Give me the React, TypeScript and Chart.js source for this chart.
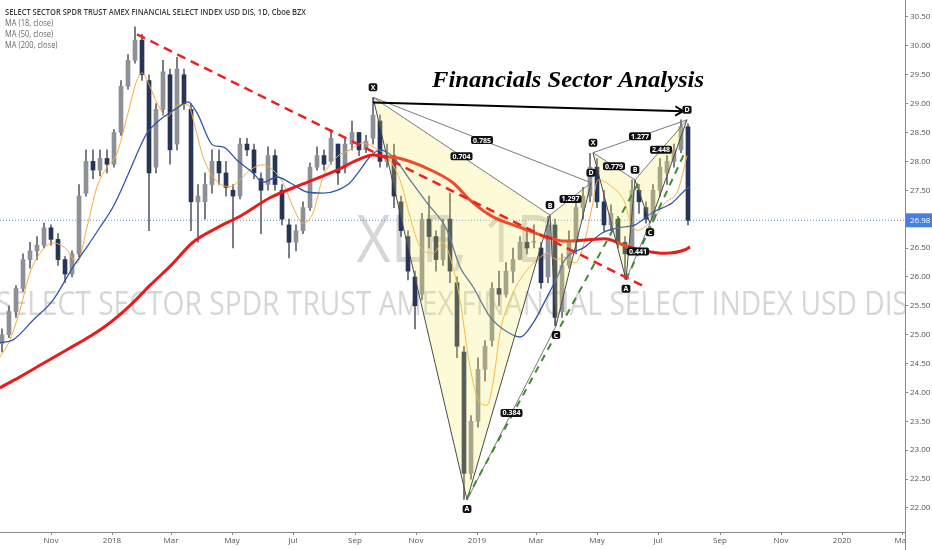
import { useEffect, useRef } from 'react';
import Chart from 'chart.js/auto';

// x values are days counted from 1 Nov 2017, one candle per week
const weekDays = [
  -49, -42, -35, -28, -21, -14, -7, 0, 7, 14, 21, 28, 35, 42, 49, 56, 63, 70, 77, 84,
  91, 98, 105, 112, 119, 126, 133, 140, 147, 154, 161, 168, 175, 182, 189, 196, 203, 210, 217, 224,
  231, 238, 245, 252, 259, 266, 273, 280, 287, 294, 301, 308, 315, 322, 329, 336, 343, 350, 357, 364,
  371, 378, 385, 392, 399, 406, 413, 420, 427, 434, 441, 448, 455, 462, 469, 476, 483, 490, 497, 504,
  511, 518, 525, 532, 539, 546, 553, 560, 567, 574, 581, 588, 595, 602, 609, 616, 623, 630, 637,
];
const opens = [
  24.85, 25.0, 25.4, 25.8, 26.3, 26.45, 26.55, 26.85, 26.65, 26.3,
  26.05, 26.4, 27.45, 28.0, 27.85, 28.05, 27.95, 28.5, 29.3, 29.75,
  30.1, 29.4, 27.9, 28.9, 29.5, 28.3, 29.5, 28.9, 27.3, 27.3,
  27.6, 28.0, 27.8, 27.5, 27.4, 28.3, 28.2, 27.7, 27.6, 28.1,
  27.5, 26.9, 26.6, 26.8, 27.2, 27.9, 28.1, 28.0, 28.3, 27.9,
  28.3, 28.5, 28.2, 28.4, 28.7, 28.0, 28.1, 27.3, 26.7, 26.0,
  25.7, 27.0, 26.7, 26.3, 27.0, 25.9, 24.7, 22.6, 23.5, 24.4,
  24.9, 25.8, 25.7, 26.1, 26.3, 26.6, 26.6, 26.5, 26.0, 26.9,
  25.4, 26.2, 26.6, 27.2, 27.4, 27.9, 27.3, 26.9, 27.0, 26.6,
  26.5, 27.5, 27.2, 27.0, 27.5, 27.8, 28.0, 28.2, 28.6,
];
const highs = [
  25.1, 25.5, 25.85, 26.4, 26.6, 26.7, 26.93, 26.9, 26.75, 26.35,
  26.45, 27.6, 28.2, 28.2, 28.2, 28.2, 28.55, 29.4, 29.85, 30.33,
  30.2, 29.5, 29.0, 29.75, 29.6, 29.8, 29.6, 29.0, 27.6, 27.8,
  28.2, 28.2, 28.0, 27.6, 28.4, 28.4, 28.3, 27.8, 28.25, 28.2,
  27.6, 27.0, 26.9, 27.3, 27.97, 28.25, 28.2, 28.55, 28.3, 28.4,
  28.7, 28.5, 28.45, 29.1, 28.8, 28.3, 28.3, 27.4, 26.8, 26.1,
  27.1, 27.4, 26.8, 27.0, 27.45, 26.0, 24.8, 23.6, 24.6, 24.9,
  25.9, 26.1, 26.25, 26.5, 26.7, 26.85, 26.9, 26.6, 27.05, 27.0,
  26.4, 26.8, 27.35, 27.55, 28.14, 28.05, 27.5, 27.25, 27.05, 26.7,
  27.68, 27.6, 27.3, 27.6, 28.05, 28.1, 28.3, 28.72, 28.65,
];
const lows = [
  24.7, 24.95, 25.3, 25.75, 26.15, 26.3, 26.5, 26.55, 26.2, 25.9,
  26.0, 26.35, 27.4, 27.7, 27.75, 27.8, 27.9, 28.45, 29.25, 29.7,
  29.4, 26.8, 27.8, 28.8, 27.95, 28.2, 28.9, 26.8, 26.6, 27.0,
  27.45, 27.6, 27.4, 26.5, 27.35, 28.1, 27.7, 26.75, 27.5, 27.5,
  26.9, 26.33, 26.45, 26.75, 27.15, 27.85, 27.85, 27.95, 27.6, 27.8,
  28.2, 28.1, 28.15, 28.3, 27.9, 27.9, 27.2, 26.7, 25.95, 25.1,
  25.6, 26.5, 26.1, 26.2, 25.9, 24.6, 22.15, 22.5, 23.4, 24.2,
  24.8, 25.5, 25.65, 25.9, 26.3, 26.4, 26.5, 25.8, 25.9, 25.15,
  25.3, 26.15, 26.4, 27.0, 27.3, 27.2, 26.8, 26.8, 26.5, 25.96,
  26.4, 27.1, 26.93, 26.95, 27.4, 27.6, 27.9, 28.15, 26.9,
];
const closes = [
  25.0, 25.4, 25.8, 26.3, 26.45, 26.55, 26.85, 26.65, 26.3, 26.05,
  26.4, 27.4, 28.0, 27.85, 28.05, 27.95, 28.5, 29.3, 29.75, 30.1,
  29.5, 27.8, 28.9, 29.55, 28.2, 29.6, 29.0, 27.3, 27.4, 27.6,
  28.0, 27.8, 27.55, 27.4, 28.3, 28.2, 27.8, 27.5, 28.1, 27.6,
  27.0, 26.6, 26.8, 27.2, 27.9, 28.1, 27.95, 28.4, 27.8, 28.3,
  28.5, 28.2, 28.35, 28.8, 28.0, 28.1, 27.4, 26.8, 26.1, 25.5,
  27.0, 26.7, 26.3, 26.9, 26.1, 24.8, 22.6, 23.5, 24.4, 24.8,
  25.8, 25.7, 26.1, 26.3, 26.6, 26.5, 26.6, 25.9, 26.9, 25.3,
  26.2, 26.6, 27.2, 27.4, 27.9, 27.3, 26.9, 27.1, 26.6, 26.4,
  27.5, 27.3, 27.0, 27.5, 27.9, 28.0, 28.2, 28.6, 26.98,
];

// moving averages: [day, value]
const ma18 = [
  [-51, 24.61], [-41, 24.91], [-31, 25.43], [-21, 26.07], [-11, 26.41], [2, 26.59], [16, 26.47],
  [26, 26.24], [36, 26.86], [46, 27.56], [56, 27.9], [66, 28.14], [76, 28.77], [86, 29.41],
  [91, 29.53], [99, 29.29], [106, 29.01], [116, 28.77], [127, 28.98], [137, 28.98], [144, 28.6],
  [152, 28.08], [162, 27.73], [179, 27.56], [189, 27.68], [199, 27.85], [212, 27.94], [222, 27.85],
  [232, 27.63], [242, 27.21], [252, 26.93], [262, 27.11], [272, 27.73], [286, 28.08], [299, 28.2],
  [312, 28.32], [322, 28.25], [336, 28.08], [349, 27.68], [359, 27.04], [369, 26.52], [382, 26.41],
  [392, 26.59], [402, 26.17], [409, 25.6], [419, 24.44], [429, 23.82], [436, 23.78], [442, 24.16],
  [449, 25.03], [462, 25.72], [476, 26.12], [486, 26.29], [496, 26.41], [506, 26.3], [514, 26.34],
  [524, 26.24], [534, 26.64], [541, 27.21], [547, 27.68], [561, 27.56], [574, 27.28], [581, 26.86],
  [587, 26.81], [601, 26.98], [614, 27.28], [627, 27.5], [636, 28.1],
];
const ma50 = [
  [-51, 24.86], [-38, 24.91], [-18, 25.25], [2, 25.6], [22, 26.17], [36, 26.52], [49, 26.86],
  [62, 27.21], [76, 27.73], [89, 28.25], [96, 28.49], [109, 28.72], [126, 28.92], [137, 29.03],
  [146, 28.84], [162, 28.28], [172, 28.25], [186, 28.02], [202, 27.8], [212, 27.64], [226, 27.73],
  [239, 27.63], [256, 27.47], [272, 27.45], [286, 27.5], [299, 27.63], [309, 27.85], [319, 28.08],
  [329, 28.2], [342, 28.08], [359, 27.68], [376, 27.28], [396, 26.81], [409, 26.17], [422, 25.83],
  [439, 25.31], [456, 25.05], [469, 24.96], [482, 25.2], [496, 25.65], [506, 25.99], [514, 26.3],
  [534, 26.52], [551, 26.76], [567, 26.85], [584, 26.9], [601, 27.11], [621, 27.28], [634, 27.5],
  [639, 27.56],
];
const ma200 = [
  [-51, 24.08], [-31, 24.27], [-8, 24.5], [16, 24.74], [40, 24.98], [60, 25.22], [80, 25.52],
  [100, 25.87], [120, 26.2], [142, 26.6], [165, 26.84], [190, 27.06], [219, 27.37], [252, 27.61],
  [286, 27.85], [306, 28.02], [322, 28.11], [332, 28.09], [349, 28.05], [376, 27.88], [402, 27.63],
  [419, 27.33], [442, 27.04], [469, 26.86], [496, 26.69], [514, 26.62], [534, 26.64], [554, 26.66],
  [574, 26.54], [594, 26.45], [614, 26.41], [634, 26.47], [639, 26.52],
];

const tickDays = [0, 61, 120, 181, 242, 304, 365, 426, 485, 546, 607, 669, 730, 791, 851];
const tickLabels = ['Nov', '2018', 'Mar', 'May', 'Jul', 'Sep', 'Nov', '2019', 'Mar', 'May', 'Jul', 'Sep', 'Nov', '2020', 'Mar'];
const priceTicks = [22, 22.5, 23, 23.5, 24, 24.5, 25, 25.5, 26, 26.5, 27, 27.5, 28, 28.5, 29, 29.5, 30, 30.5];
const lastPrice = 26.98;

// harmonic patterns
const pointNames = ['X', 'A', 'B', 'C', 'D'];
const pattern1Days = [322, 416, 499, 505, 540];
const pattern1Prices = [29.11, 22.14, 27.07, 25.15, 27.63];
const pattern2Days = [542, 575, 584, 599, 636];
const pattern2Prices = [28.15, 25.95, 27.68, 26.93, 28.72];
const ratioLegs = [[0, 2], [0, 4], [1, 3], [2, 4]]; // XB, XD, AC, BD
const pattern1Ratios = ['0.704', '0.785', '0.384', '1.297'];
const pattern2Ratios = ['0.779', '1.277', '0.441', '2.448'];

const redTrendDays = [86, 596];
const redTrendPrices = [30.2, 25.81];
const greenTrend1Days = [416, 589];
const greenTrend1Prices = [22.17, 27.68];
const greenTrend2Days = [575, 635];
const greenTrend2Prices = [25.95, 28.2];
const arrowDays = [322, 632];
const arrowPrices = [29.02, 28.87];

const headerText = 'SELECT SECTOR SPDR TRUST AMEX FINANCIAL SELECT INDEX USD DIS, 1D, Cboe BZX';
const maLabels = ['MA (18, close)', 'MA (50, close)', 'MA (200, close)'];
const titleText = 'Financials Sector Analysis';

const pts = (days: number[], vals: number[]) => days.map((d, i) => ({ x: d, y: vals[i] }));
const pairs = (list: number[][]) => list.map(([x, y]) => ({ x, y }));

const line = (data: any[], color: string, width: number, order: number, extra: any = {}) => ({
  type: 'line',
  data,
  borderColor: color,
  borderWidth: width,
  pointRadius: 0,
  fill: false,
  tension: 0,
  order,
  ...extra,
});

// text squeezed to a width, the way the narrow TradingView fonts look
function fitted(ctx: CanvasRenderingContext2D, text: string, x: number, y: number, width: number, center = false) {
  const w = ctx.measureText(text).width;
  ctx.save();
  ctx.translate(x, y);
  ctx.scale(width / w, 1);
  ctx.textAlign = 'left';
  ctx.fillText(text, center ? -w / 2 : 0, 0);
  ctx.restore();
}

function tag(ctx: CanvasRenderingContext2D, text: string, cx: number, cy: number) {
  ctx.font = 'bold 7px "Open Sans"';
  const w = ctx.measureText(text).width + 4;
  const h = 8;
  ctx.fillStyle = '#111';
  ctx.beginPath();
  ctx.roundRect(cx - w / 2, cy - h / 2, w, h, 2);
  ctx.fill();
  ctx.fillStyle = '#fff';
  ctx.textAlign = 'center';
  ctx.textBaseline = 'middle';
  ctx.fillText(text, cx, cy + 0.5);
}

const overlay = {
  id: 'overlay',
  beforeDatasetsDraw(chart: any) {
    const { ctx, chartArea: a } = chart;
    ctx.save();
    ctx.beginPath();
    ctx.rect(a.left, a.top, a.right - a.left, a.bottom - a.top);
    ctx.clip();
    ctx.fillStyle = 'rgba(120,120,120,0.3)';
    ctx.textBaseline = 'alphabetic';
    ctx.font = '66px "Open Sans"';
    fitted(ctx, 'XLF, 1D', 458, 262, 203, true);
    ctx.font = '32px "Open Sans"';
    fitted(ctx, 'SELECT SECTOR SPDR TRUST AMEX FINANCIAL SELECT INDEX USD DIS', 452, 315, 912, true);
    ctx.restore();
  },
  afterDatasetsDraw(chart: any) {
    const { ctx, chartArea: a, scales } = chart;
    const xs = scales.x;
    const ys = scales.y;
    ctx.save();

    // arrow head
    const ax = arrowDays.map((d) => xs.getPixelForValue(d));
    const ay = arrowPrices.map((p) => ys.getPixelForValue(p));
    const ang = Math.atan2(ay[1] - ay[0], ax[1] - ax[0]);
    ctx.strokeStyle = '#000';
    ctx.lineWidth = 2;
    ctx.beginPath();
    ctx.moveTo(ax[1] - 9 * Math.cos(ang - 0.55), ay[1] - 9 * Math.sin(ang - 0.55));
    ctx.lineTo(ax[1], ay[1]);
    ctx.lineTo(ax[1] - 9 * Math.cos(ang + 0.55), ay[1] - 9 * Math.sin(ang + 0.55));
    ctx.stroke();

    // pattern tags
    const drawTags = (days: number[], prices: number[], ratios: string[]) => {
      const px = days.map((d) => xs.getPixelForValue(d));
      const py = prices.map((p) => ys.getPixelForValue(p));
      ratioLegs.forEach(([i, j], k) => tag(ctx, ratios[k], (px[i] + px[j]) / 2, (py[i] + py[j]) / 2));
      pointNames.forEach((n, i) => tag(ctx, n, px[i], py[i] + (i % 2 === 0 ? -10 : 9)));
    };
    drawTags(pattern1Days, pattern1Prices, pattern1Ratios);
    drawTags(pattern2Days, pattern2Prices, pattern2Ratios);

    // header and legend
    ctx.textBaseline = 'middle';
    ctx.font = '600 9px "Open Sans"';
    const k = 301 / ctx.measureText(headerText).width;
    ctx.fillStyle = '#3a3a3a';
    fitted(ctx, headerText, 5, 12, 301);
    ctx.font = '9px "Open Sans"';
    ctx.fillStyle = '#6a6a6a';
    maLabels.forEach((t, i) => fitted(ctx, t, 5, 23 + i * 11, ctx.measureText(t).width * k));

    // title
    ctx.textBaseline = 'alphabetic';
    ctx.font = 'italic bold 24px "Liberation Serif"';
    ctx.fillStyle = '#000';
    fitted(ctx, titleText, 432, 87, 272);

    // cut the last month label at the price axis
    ctx.fillStyle = '#fff';
    ctx.fillRect(a.right + 1, a.bottom + 1, chart.width - a.right, chart.height - a.bottom);
    ctx.strokeStyle = '#8a8a8a';
    ctx.lineWidth = 1;
    ctx.beginPath();
    ctx.moveTo(a.right + 0.5, a.bottom);
    ctx.lineTo(a.right + 0.5, chart.height);
    ctx.stroke();

    // last price tag
    const yp = ys.getPixelForValue(lastPrice);
    ctx.fillStyle = '#4a7fe2';
    ctx.fillRect(a.right + 1, yp - 7, chart.width - a.right - 1, 14);
    ctx.fillStyle = '#fff';
    ctx.font = '8px "Open Sans"';
    ctx.textAlign = 'left';
    ctx.textBaseline = 'middle';
    ctx.fillText(lastPrice.toFixed(2), a.right + 5, yp);
    ctx.restore();
  },
};

export default function App() {
  const canvasRef = useRef<HTMLCanvasElement | null>(null);
  const chartRef = useRef<Chart | null>(null);

  useEffect(() => {
    document.body.style.margin = '0';
    if (!canvasRef.current) return;
    if (chartRef.current) chartRef.current.destroy();

    const up = closes.map((c, i) => c >= opens[i]);
    const p1 = pts(pattern1Days, pattern1Prices);
    const p2 = pts(pattern2Days, pattern2Prices);
    const fillColor = 'rgba(245,235,90,0.24)';
    const patternDatasets = (p: any[]) => [
      line([p[0], p[1], p[2]], 'rgba(0,0,0,0)', 0, 20, { fill: 'shape', backgroundColor: fillColor }),
      line([p[2], p[3], p[4]], 'rgba(0,0,0,0)', 0, 20, { fill: 'shape', backgroundColor: fillColor }),
      line(p, '#4a4a4a', 1, 15),
      ...ratioLegs.map(([i, j]) => line([p[i], p[j]], '#7a7a7a', 1, 15)),
    ];

    chartRef.current = new Chart(canvasRef.current, {
      type: 'bar',
      data: {
        datasets: [
          line(pts(arrowDays, arrowPrices), '#000', 2, 5),
          line(pts(redTrendDays, redTrendPrices), 'rgb(240,32,32)', 2.5, 10, { borderDash: [9, 6] }),
          line(pts(greenTrend1Days, greenTrend1Prices), 'rgb(62,140,44)', 2, 10, { borderDash: [7, 6] }),
          line(pts(greenTrend2Days, greenTrend2Prices), 'rgb(62,140,44)', 2, 10, { borderDash: [7, 6] }),
          ...patternDatasets(p1),
          ...patternDatasets(p2),
          line(pairs(ma200), 'rgb(232,28,28)', 3, 28, { cubicInterpolationMode: 'monotone' }),
          line(pairs(ma50), 'rgb(52,86,168)', 1.3, 29, { cubicInterpolationMode: 'monotone' }),
          line(pairs(ma18), 'rgb(247,170,62)', 1, 30, { cubicInterpolationMode: 'monotone' }),
          {
            type: 'bar',
            data: weekDays.map((d, i) => ({ x: d, y: [opens[i], closes[i]] })),
            backgroundColor: up.map((u) => (u ? '#8d9096' : '#263457')),
            borderWidth: 0,
            barThickness: 4,
            minBarLength: 1,
            grouped: false,
            order: 39,
          },
          {
            type: 'bar',
            data: weekDays.map((d, i) => ({ x: d, y: [lows[i], highs[i]] })),
            backgroundColor: '#5f636d',
            borderWidth: 0,
            barThickness: 1,
            grouped: false,
            order: 40,
          },
          line(pts([-51, 854], [lastPrice, lastPrice]), 'rgba(74,127,226,0.85)', 1, 50, { borderDash: [1, 2] }),
        ] as any,
      },
      options: {
        responsive: true,
        maintainAspectRatio: false,
        animation: false,
        events: [],
        layout: { padding: 0 },
        plugins: {
          legend: { display: false },
          tooltip: { enabled: false },
        },
        scales: {
          x: {
            type: 'linear',
            min: -51,
            max: 854,
            offset: false,
            grid: { drawOnChartArea: false, drawTicks: true, tickLength: 3, color: '#8a8a8a', offset: false },
            border: { color: '#8a8a8a' },
            afterBuildTicks: (axis: any) => {
              axis.ticks = tickDays.map((v) => ({ value: v }));
            },
            afterFit: (axis: any) => {
              axis.height = 18;
            },
            ticks: {
              autoSkip: false,
              maxRotation: 0,
              minRotation: 0,
              padding: 1,
              color: '#555',
              font: { family: 'Open Sans', size: 8 },
              callback: (v: any) => {
                const i = tickDays.indexOf(Number(v));
                return i >= 0 ? tickLabels[i] : '';
              },
            },
          },
          y: {
            type: 'linear',
            position: 'right',
            min: 21.584,
            max: 30.794,
            grid: { drawOnChartArea: false, drawTicks: true, tickLength: 3, color: '#8a8a8a' },
            border: { color: '#8a8a8a' },
            afterBuildTicks: (axis: any) => {
              axis.ticks = priceTicks.map((v) => ({ value: v }));
            },
            afterFit: (axis: any) => {
              axis.width = 27;
              axis.paddingTop = 0;
              axis.paddingBottom = 0;
            },
            ticks: {
              padding: 2,
              color: '#555',
              font: { family: 'Open Sans', size: 8 },
              callback: (v: any) => Number(v).toFixed(2),
            },
          },
        },
      },
      plugins: [overlay],
    });

    return () => {
      if (chartRef.current) {
        chartRef.current.destroy();
        chartRef.current = null;
      }
    };
  }, []);

  return (
    <div style={{ width: 932, height: 550, position: 'relative', background: '#fff' }}>
      <canvas ref={canvasRef} />
    </div>
  );
}
